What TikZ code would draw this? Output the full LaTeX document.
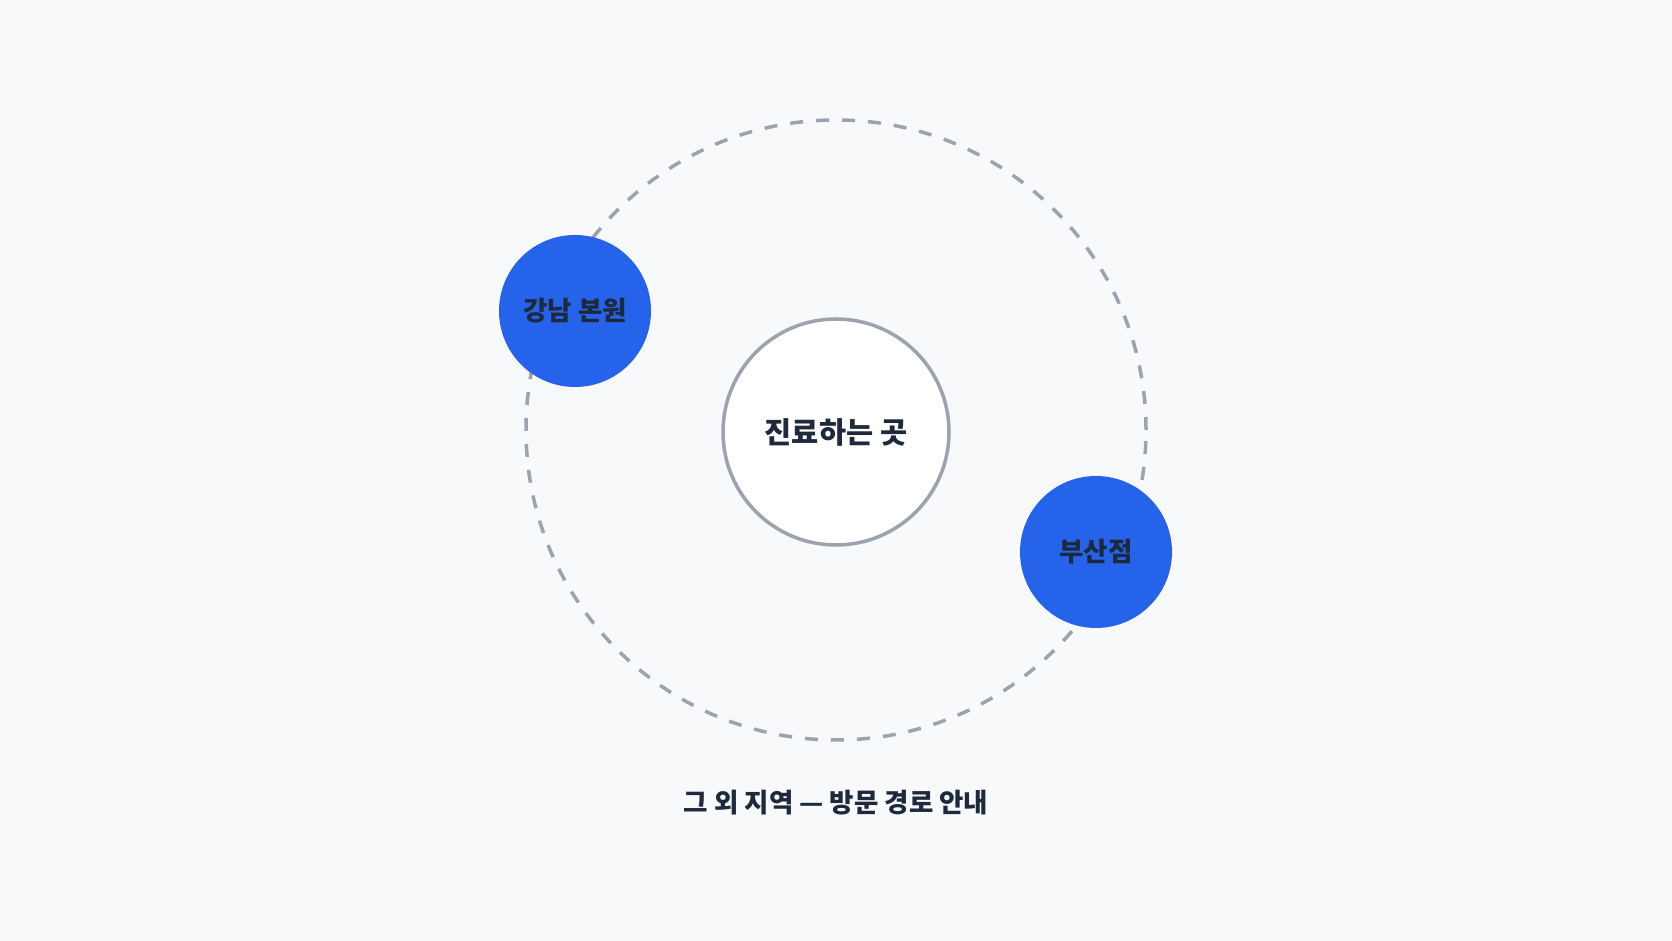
\documentclass[tikz,border=0pt]{standalone}
\usepackage{fontspec}
\setmainfont{Noto Sans CJK KR}
\usepackage{tikz}

\definecolor{pagebg}{HTML}{F8F9FB}
\definecolor{ringgray}{HTML}{9CA3AF}
\definecolor{siteblue}{HTML}{2563EB}
\definecolor{inkdark}{HTML}{1E293B}

\begin{document}
\begin{tikzpicture}[x=1pt, y=1pt,
    site/.style={circle, fill=siteblue, inner sep=0pt, minimum size=152pt,
                 text=inkdark, font=\fontsize{26.5}{30}\selectfont\bfseries},
    hub/.style={circle, draw=ringgray, line width=3.5pt, fill=white, inner sep=0pt,
                minimum size=226pt, text=inkdark, font=\fontsize{29.5}{34}\selectfont\bfseries}]
    % page
    \fill[pagebg] (0,0) rectangle (1672,941);
    \useasboundingbox (0,0) rectangle (1672,941);

    % outer dashed ring
    \node[circle, draw=ringgray, line width=3.5pt, dash pattern=on 13pt off 13pt,
          inner sep=0pt, minimum size=620pt] (ring) at (836,511) {};

    % centre and sites
    \node[hub] (care) at (836,509) {진료하는 곳};
    \node[site] (gangnam) at (575,630) {강남 본원};
    \node[site] (busan) at (1096,389) {부산점};

    \node[text=inkdark, font=\fontsize{26.5}{30}\selectfont\bfseries] (caption) at (836,138) {그 외 지역 — 방문 경로 안내};
\end{tikzpicture}
\end{document}
